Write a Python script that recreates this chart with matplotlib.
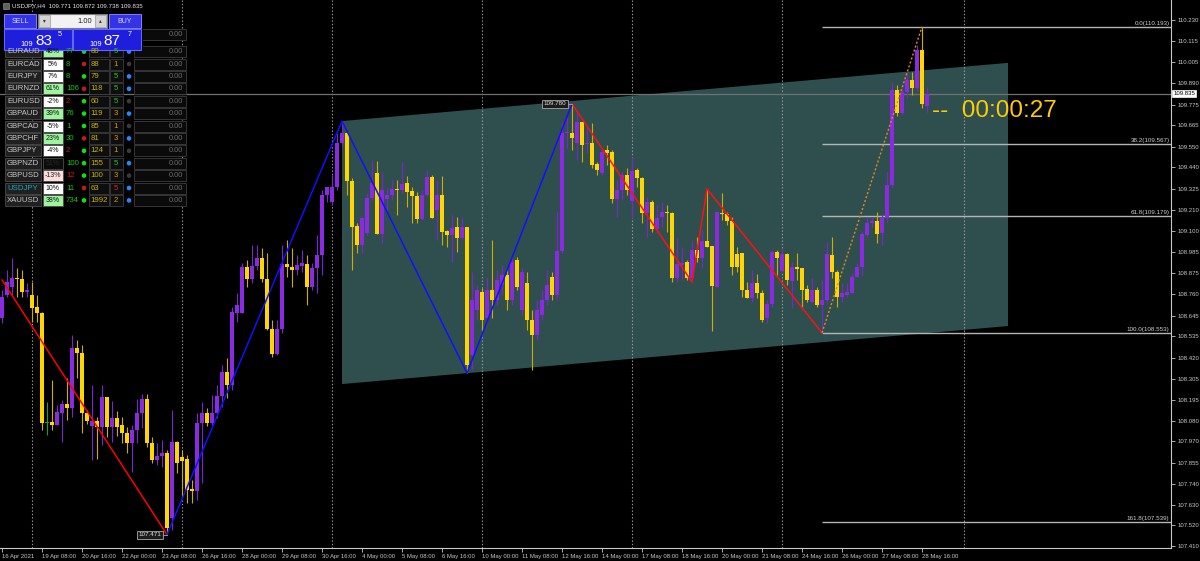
import numpy as np
import matplotlib.pyplot as plt
from matplotlib.patches import Rectangle, Circle
from matplotlib.transforms import blended_transform_factory

plt.rcParams['font.family'] = ['Liberation Sans', 'DejaVu Sans']

# ---- USDJPY H4 candles, bar 0 = 16 Apr 2021 00:00 ----
opens = [
    108.632, 108.755, 108.798, 108.846, 108.841, 108.771, 108.755, 108.691, 108.659, 108.069,
    108.074, 108.058, 108.123, 108.171, 108.149, 108.471, 108.444, 108.123, 108.053, 108.080,
    108.047, 108.208, 108.047, 108.096, 108.058, 108.015, 107.962, 108.031, 108.123, 108.197,
    107.962, 107.870, 107.892, 107.908, 107.559, 107.967, 107.887, 107.876, 107.715, 107.704,
    108.069, 108.123, 108.069, 108.123, 108.214, 108.342, 108.273, 108.659, 108.659, 108.905,
    108.841, 108.911, 108.954, 108.841, 108.573, 108.439, 108.573, 108.921, 108.905, 108.889,
    108.911, 108.921, 108.798, 108.900, 108.970, 109.291, 109.254, 109.334, 109.570, 109.624,
    109.366, 109.125, 109.023, 109.088, 109.275, 109.409, 109.082, 109.270, 109.291, 109.324,
    109.318, 109.356, 109.313, 109.286, 109.163, 109.291, 109.388, 109.211, 109.291, 109.098,
    109.077, 109.120, 109.061, 109.120, 108.434, 108.675, 108.771, 108.632, 108.782, 108.728,
    108.809, 108.862, 108.728, 108.943, 108.675, 108.820, 108.621, 108.541, 108.648, 108.728,
    108.852, 108.755, 108.991, 109.624, 109.624, 109.570, 109.683, 109.565, 109.570, 109.458,
    109.409, 109.533, 109.522, 109.270, 109.318, 109.399, 109.259, 109.425, 109.383, 109.195,
    109.254, 109.109, 109.173, 109.200, 109.195, 108.846, 108.916, 108.932, 108.846, 108.997,
    108.954, 109.045, 109.018, 108.798, 109.195, 109.190, 109.152, 108.975, 108.981, 108.782,
    108.739, 108.819, 108.766, 108.632, 108.707, 108.986, 108.884, 108.975, 108.830, 108.905,
    108.900, 108.788, 108.718, 108.782, 108.702, 108.728, 108.970, 108.879, 108.744, 108.755,
    108.766, 108.852, 108.905, 109.077, 109.141, 109.152, 109.088, 109.168, 109.345, 109.854,
    109.731, 109.844, 109.908, 109.865, 110.069, 109.771]
closes = [
    108.744, 108.825, 108.846, 108.841, 108.771, 108.782, 108.686, 108.659, 108.069, 108.069,
    108.058, 108.128, 108.171, 108.149, 108.471, 108.444, 108.123, 108.080, 108.080, 108.047,
    108.208, 108.047, 108.096, 108.047, 108.015, 107.962, 108.031, 108.123, 108.197, 107.962,
    107.870, 107.892, 107.908, 107.506, 107.967, 107.854, 107.865, 107.710, 107.704, 108.069,
    108.123, 108.069, 108.123, 108.214, 108.342, 108.273, 108.664, 108.702, 108.905, 108.841,
    108.911, 108.954, 108.841, 108.573, 108.439, 108.573, 108.921, 108.905, 108.889, 108.916,
    108.927, 108.798, 108.900, 108.970, 109.291, 109.334, 109.334, 109.570, 109.624, 109.366,
    109.120, 109.023, 109.168, 109.275, 109.356, 109.082, 109.318, 109.291, 109.324, 109.318,
    109.350, 109.308, 109.286, 109.163, 109.291, 109.388, 109.168, 109.291, 109.093, 109.077,
    109.114, 109.061, 109.120, 108.380, 108.728, 108.782, 108.621, 108.782, 108.728, 108.836,
    108.862, 108.728, 108.932, 108.798, 108.879, 108.621, 108.541, 108.675, 108.728, 108.809,
    108.755, 108.991, 109.624, 109.629, 109.597, 109.683, 109.559, 109.570, 109.452, 109.425,
    109.522, 109.517, 109.270, 109.318, 109.399, 109.318, 109.420, 109.383, 109.195, 109.254,
    109.109, 109.168, 109.200, 109.195, 108.846, 108.921, 108.927, 108.846, 108.997, 108.954,
    109.045, 109.013, 108.804, 109.200, 109.190, 109.152, 108.905, 108.905, 108.782, 108.739,
    108.819, 108.766, 108.621, 108.707, 108.986, 108.954, 108.975, 108.836, 108.905, 108.895,
    108.782, 108.728, 108.782, 108.702, 108.728, 108.975, 108.879, 108.744, 108.766, 108.771,
    108.852, 108.905, 109.082, 109.141, 109.152, 109.082, 109.168, 109.345, 109.854, 109.731,
    109.844, 109.908, 109.865, 110.069, 109.779, 109.835]
highs = [
    108.782, 108.889, 108.954, 108.900, 108.889, 108.819, 108.825, 108.755, 108.664, 108.181,
    108.299, 108.165, 108.192, 108.310, 108.541, 108.514, 108.487, 108.139, 108.273, 108.101,
    108.273, 108.208, 108.187, 108.133, 108.101, 108.047, 108.058, 108.197, 108.224, 108.224,
    107.994, 107.962, 107.978, 107.924, 108.139, 107.973, 107.924, 107.897, 107.763, 108.123,
    108.181, 108.149, 108.219, 108.273, 108.380, 108.417, 108.691, 108.766, 108.927, 108.943,
    109.023, 109.023, 109.007, 108.981, 108.621, 108.621, 109.023, 109.050, 109.007, 108.970,
    108.997, 108.970, 108.927, 109.077, 109.318, 109.334, 109.399, 109.624, 109.688, 109.624,
    109.382, 109.141, 109.173, 109.302, 109.479, 109.474, 109.415, 109.329, 109.372, 109.372,
    109.468, 109.393, 109.334, 109.308, 109.318, 109.425, 109.399, 109.372, 109.393, 109.104,
    109.184, 109.173, 109.173, 109.120, 108.879, 108.809, 108.793, 108.852, 109.050, 108.889,
    108.916, 108.900, 108.954, 108.959, 108.900, 108.879, 108.675, 108.728, 108.782, 108.889,
    108.879, 109.200, 109.683, 109.710, 109.780, 109.747, 109.683, 109.656, 109.678, 109.468,
    109.533, 109.560, 109.533, 109.372, 109.415, 109.436, 109.495, 109.436, 109.388, 109.281,
    109.265, 109.238, 109.254, 109.238, 109.200, 109.061, 109.013, 108.943, 109.050, 109.066,
    109.104, 109.324, 109.018, 109.200, 109.302, 109.200, 109.173, 109.013, 108.981, 108.825,
    108.889, 108.868, 108.782, 108.728, 108.997, 108.997, 108.997, 108.981, 108.932, 108.981,
    108.900, 108.809, 108.846, 108.798, 108.836, 109.039, 109.066, 108.889, 108.819, 108.819,
    108.873, 108.927, 109.093, 109.173, 109.173, 109.200, 109.184, 109.415, 109.897, 109.881,
    109.865, 109.946, 109.951, 110.096, 110.193, 109.872]
lows = [
    108.605, 108.744, 108.755, 108.744, 108.744, 108.744, 108.611, 108.611, 108.031, 108.005,
    108.031, 108.058, 107.967, 108.085, 108.101, 108.310, 108.015, 108.064, 107.870, 107.876,
    107.951, 107.994, 107.967, 108.000, 107.962, 107.908, 107.806, 107.962, 108.042, 107.940,
    107.854, 107.844, 107.833, 107.471, 107.495, 107.801, 107.672, 107.640, 107.640, 107.656,
    107.747, 108.053, 108.058, 108.096, 108.155, 108.203, 108.246, 108.611, 108.659, 108.798,
    108.819, 108.889, 108.825, 108.568, 108.423, 108.434, 108.552, 108.852, 108.798, 108.862,
    108.879, 108.702, 108.782, 108.766, 108.862, 109.254, 109.238, 109.318, 109.549, 109.291,
    108.889, 108.980, 108.980, 109.077, 109.265, 109.082, 109.034, 109.211, 109.265, 109.184,
    109.302, 109.227, 109.141, 109.141, 109.157, 109.286, 109.168, 109.050, 109.023, 109.013,
    108.932, 108.986, 109.050, 108.337, 108.360, 108.621, 108.568, 108.611, 108.632, 108.702,
    108.755, 108.675, 108.702, 108.782, 108.648, 108.568, 108.353, 108.514, 108.621, 108.702,
    108.728, 108.728, 108.980, 109.543, 109.533, 109.479, 109.468, 109.517, 109.436, 109.399,
    109.399, 109.452, 109.249, 109.173, 109.265, 109.291, 109.168, 109.334, 109.141, 109.066,
    109.093, 109.088, 109.120, 109.093, 108.825, 108.825, 108.836, 108.836, 108.825, 108.932,
    108.900, 109.013, 108.562, 108.798, 109.157, 109.131, 108.862, 108.879, 108.744, 108.739,
    108.718, 108.739, 108.611, 108.605, 108.691, 108.862, 108.879, 108.809, 108.686, 108.836,
    108.691, 108.718, 108.712, 108.691, 108.553, 108.712, 108.846, 108.691, 108.718, 108.744,
    108.766, 108.852, 108.857, 109.066, 109.120, 109.034, 109.023, 109.147, 109.329, 109.715,
    109.720, 109.812, 109.828, 109.844, 109.758, 109.738]

price_ticks = [110.230, 110.115, 110.005, 109.890, 109.775, 109.665, 109.550, 109.440,
               109.325, 109.210, 109.100, 108.985, 108.875, 108.760, 108.645, 108.535,
               108.420, 108.305, 108.195, 108.080, 107.970, 107.855, 107.740, 107.630,
               107.520, 107.410]
time_labels = ["16 Apr 2021", "19 Apr 08:00", "20 Apr 16:00", "22 Apr 00:00", "23 Apr 08:00",
               "26 Apr 16:00", "28 Apr 00:00", "29 Apr 08:00", "30 Apr 16:00", "4 May 00:00",
               "5 May 08:00", "6 May 16:00", "10 May 00:00", "11 May 08:00", "12 May 16:00",
               "14 May 00:00", "17 May 08:00", "18 May 16:00", "20 May 00:00", "21 May 08:00",
               "24 May 16:00", "26 May 00:00", "27 May 08:00", "28 May 16:00"]
time_label_bars = list(range(0, 185, 8))
separator_bars = [6, 36, 66, 96, 126, 156, 192.4]

# zigzag pivots (bar, price)
zz_red1 = ([0, 33], [108.836, 107.471])
zz_blue = ([33, 68, 93, 114], [107.471, 109.688, 108.337, 109.780])
zz_red2 = ([114, 138, 141, 164], [109.780, 108.825, 109.324, 108.553])
zz_proj = ([164, 184], [108.553, 110.193])

# channel corners
chan_bars = [68, 201.2, 201.2, 68]
chan_prices = [109.688, 110.000, 108.589, 108.278]

fib_levels = ["0.0", "38.2", "61.8", "100.0", "161.8"]
fib_prices = [110.193, 109.567, 109.179, 108.553, 107.539]
fib_start = 164

last_price = 109.835
timer_text = "--  00:00:27"

# ---- figure ----
BULL, BEAR, DOJI = '#8A2BE2', '#FFD700', '#1FA01F'
fig = plt.figure(figsize=(12, 5.61), dpi=100, facecolor='black')
ax = fig.add_axes([0, 13 / 561, 1171 / 1200, 548 / 561])
ax.set_facecolor('black')

o, h, l, c = (np.array(a) for a in (opens, highs, lows, closes))
idx = np.arange(len(o))
body_col = np.where(c > o, BULL, np.where(c < o, BEAR, DOJI))
wick_col = np.where(c > o, '#7B26CC', np.where(c < o, '#CDAE00', DOJI))

ax.fill(chan_bars, chan_prices, color='#2F4F4F', lw=0, zorder=1)
for b in separator_bars:
    ax.axvline(b, color='#9A9A9A', lw=0.8, ls=(0, (1.2, 1.8)), zorder=2)
ax.axhline(last_price, color='#707070', lw=0.9, zorder=2)

ax.vlines(idx, l, h, colors=wick_col, lw=0.8, zorder=3)
ax.bar(idx, np.maximum(np.abs(c - o), 0.004), bottom=np.minimum(o, c), width=0.62,
       color=body_col, lw=0, zorder=4)

ax.plot(*zz_red1, color='#FF0000', lw=1.1, zorder=5)
ax.plot(*zz_blue, color='#1010FF', lw=1.1, zorder=5)
ax.plot(*zz_red2, color='#FF1010', lw=1.1, zorder=5)
ax.plot(*zz_proj, color='#E08A20', lw=1.0, ls=(0, (1.5, 1.5)), zorder=5)

# pivot price labels
box = dict(boxstyle='square,pad=0.25', fc='#1C1C1C', ec='#A8A8A8', lw=0.6)
ax.plot([31.8, 33], [107.471, 107.471], color='#A8A8A8', lw=0.6, zorder=5)
ax.text(31.8, 107.471, "107.471", ha='right', va='center', fontsize=4.5, color='#E0E0E0',
        bbox=box, zorder=6)
ax.plot([112.9, 114], [109.780, 109.780], color='#A8A8A8', lw=0.6, zorder=5)
ax.text(112.9, 109.780, "109.780", ha='right', va='center', fontsize=4.5, color='#E0E0E0',
        bbox=box, zorder=6)

# fibonacci
xmax = 233.8
ax.hlines(fib_prices, fib_start, xmax, color='#B4B4B4', lw=1.0, zorder=2)
for lev, p in zip(fib_levels, fib_prices):
    ax.text(xmax - 0.3, p + 0.004, f"{lev}({p:.3f})", ha='right', va='bottom',
            fontsize=4.5, color='#D0D0D0', zorder=6)

ax.text(186, 109.742, timer_text, ha='left', va='center', fontsize=17.5, color='#FFCC00', zorder=6)

ax.set_xlim(-0.4, xmax)
ax.set_ylim(107.399, 110.337)
ax.yaxis.tick_right()
ax.set_yticks(price_ticks)
ax.set_yticklabels([f"{p:.3f}" for p in price_ticks])
ax.set_xticks(time_label_bars)
ax.set_xticklabels(time_labels, ha='left')
for s in ('top', 'left'):
    ax.spines[s].set_visible(False)
for s in ('right', 'bottom'):
    ax.spines[s].set_color('#C8C8C8')
    ax.spines[s].set_linewidth(0.8)
ax.tick_params(colors='#C8C8C8', labelsize=4.3, length=3, width=0.6, pad=1.5)
ax.tick_params(axis='x', pad=1)
trans = blended_transform_factory(ax.transAxes, ax.transData)
ax.text(1.002, last_price, f"{last_price:.3f}", transform=trans, ha='left', va='center',
        fontsize=4.3, color='black', zorder=7,
        bbox=dict(boxstyle='square,pad=0.2', fc='white', ec='white', lw=0.5), clip_on=False)

# ---- left overlay: title, trade panel, strength table ----
ov = fig.add_axes([0, 0, 1, 1], zorder=10)
ov.set_xlim(0, 1200)
ov.set_ylim(561, 0)
ov.axis('off')
ov.patch.set_alpha(0)

ov.add_patch(Rectangle((3, 3), 6, 6, fc='#606060', ec='#A0A0A0', lw=0.4))
ov.text(12, 6, "USDJPY,H4  109.771 109.872 109.738 109.835", fontsize=4.4, color='#E6E6E6',
        va='center', ha='left')

pairs = ['EURAUD', 'EURCAD', 'EURJPY', 'EURNZD', 'EURUSD', 'GBPAUD', 'GBPCAD', 'GBPCHF',
         'GBPJPY', 'GBPNZD', 'GBPUSD', 'USDJPY', 'XAUUSD']
pct = ['48%', '5%', '7%', '61%', '-2%', '39%', '-5%', '23%', '-4%', '51%', '-13%', '10%', '38%']
pct_state = ['hi', 'mid', 'mid', 'hi', 'mid', 'hi', 'mid', 'hi', 'mid', 'off', 'low', 'mid', 'hi']
counts = ['77', '8', '8', '106', '2', '76', '1', '30', '2', '100', '12', '11', '734']
count_up = [1, 1, 1, 1, 0, 1, 1, 1, 0, 1, 0, 1, 1]
dot1_up = [1, 0, 1, 0, 1, 1, 1, 0, 1, 1, 1, 0, 1]
scores = ['80', '88', '79', '118', '60', '119', '85', '81', '124', '155', '100', '63', '1992']
ranks = ['5', '1', '5', '5', '5', '3', '1', '3', '1', '5', '3', '5', '2']
rank_state = ['up', 'mid', 'up', 'up', 'up', 'mid', 'mid', 'mid', 'mid', 'up', 'mid', 'down', 'mid']
dot2_on = [1, 0, 1, 1, 0, 1, 0, 1, 0, 1, 0, 1, 1]

pct_bg = {'hi': '#9CF59C', 'mid': '#FFFFFF', 'low': '#FFDCDC', 'off': '#0C0C0C'}
pct_fg = {'hi': '#101010', 'mid': '#101010', 'low': '#202020', 'off': '#262626'}
rank_fg = {'up': '#22C822', 'mid': '#E09A00', 'down': '#E02020'}

row_h = 12.4
y0 = 51.6
ov.add_patch(Rectangle((134, 28.5), 52, 11, fc='#0A0A0A', ec='#3C3C3C', lw=0.6))
ov.text(183, 34, "0.00", ha='right', va='center', fontsize=5.3, color='#6E6E6E')
for k, name in enumerate(pairs):
    yc = y0 + k * row_h
    top = yc - 5.5
    ov.add_patch(Rectangle((5, top), 36, 11, fc='#202020', ec='#4A4A4A', lw=0.6))
    ov.text(7, yc, name, ha='left', va='center', fontsize=5.6,
            color='#18A8B8' if name == 'USDJPY' else '#C8C8C8')
    st = pct_state[k]
    ov.add_patch(Rectangle((43, top), 19.5, 11, fc=pct_bg[st], ec='#4A4A4A', lw=0.6))
    ov.text(52.7, yc, pct[k], ha='center', va='center', fontsize=5.0, color=pct_fg[st])
    ov.text(66, yc, counts[k], ha='left', va='center', fontsize=5.6,
            color='#10C810' if count_up[k] else '#D41010')
    ov.add_patch(Circle((84, yc), 2.3, fc='#10E010' if dot1_up[k] else '#C81818', lw=0))
    ov.add_patch(Rectangle((88.5, top), 20, 11, fc='#0E0E0E', ec='#3C3C3C', lw=0.6))
    ov.text(90.5, yc, scores[k], ha='left', va='center', fontsize=5.6, color='#C8B400')
    ov.add_patch(Rectangle((110, top), 13, 11, fc='#0E0E0E', ec='#3C3C3C', lw=0.6))
    ov.text(116, yc, ranks[k], ha='center', va='center', fontsize=5.6, color=rank_fg[rank_state[k]])
    ov.add_patch(Circle((129, yc), 2.3, fc='#1E8CFF' if dot2_on[k] else '#3A3A3A', lw=0))
    ov.add_patch(Rectangle((134, top), 52, 11, fc='#0A0A0A', ec='#3C3C3C', lw=0.6))
    ov.text(183, yc, "0.00", ha='right', va='center', fontsize=5.3, color='#6E6E6E')

# trade panel (drawn over the first table row)
ov.add_patch(Rectangle((2, 12), 141, 39, fc='black', lw=0))
btn = dict(fc='#3434E6', ec='#8080FF', lw=0.7)
ov.add_patch(Rectangle((4, 14), 32, 14, **btn))
ov.text(20, 21, "SELL", ha='center', va='center', fontsize=5.0, color='#D8D8FF')
ov.add_patch(Rectangle((109, 14), 32, 14, **btn))
ov.text(125, 21, "BUY", ha='center', va='center', fontsize=5.0, color='#D8D8FF')
ov.add_patch(Rectangle((38, 14), 69, 14, fc='#F2F2F2', ec='#7A7A7A', lw=0.8))
ov.add_patch(Rectangle((39, 15), 11, 12, fc='#D4D4D4', ec='#9A9A9A', lw=0.5))
ov.add_patch(Rectangle((95, 15), 11, 12, fc='#D4D4D4', ec='#9A9A9A', lw=0.5))
ov.text(44.5, 21, "▾", ha='center', va='center', fontsize=4, color='#303030')
ov.text(100.5, 21, "▴", ha='center', va='center', fontsize=4, color='#303030')
ov.text(92.5, 21, "1.00", ha='right', va='center', fontsize=5.4, color='#202020')
pbox = dict(fc='#1E1EDC', ec='#6464FF', lw=0.8)
ov.add_patch(Rectangle((4, 29), 68, 21, **pbox))
ov.add_patch(Rectangle((73, 29), 68, 21, **pbox))
for x_small, x_big, x_sup, big, sup in [(33, 35, 58, "83", "5"), (102, 103, 128, "87", "7")]:
    ov.text(x_small, 44, "109", ha='right', va='center', fontsize=5.5, color='white')
    ov.text(x_big, 40.5, big, ha='left', va='center', fontsize=11, color='white')
    ov.text(x_sup, 34, sup, ha='left', va='center', fontsize=5.2, color='white')

fig.savefig("out.png", dpi=100, facecolor='black')
